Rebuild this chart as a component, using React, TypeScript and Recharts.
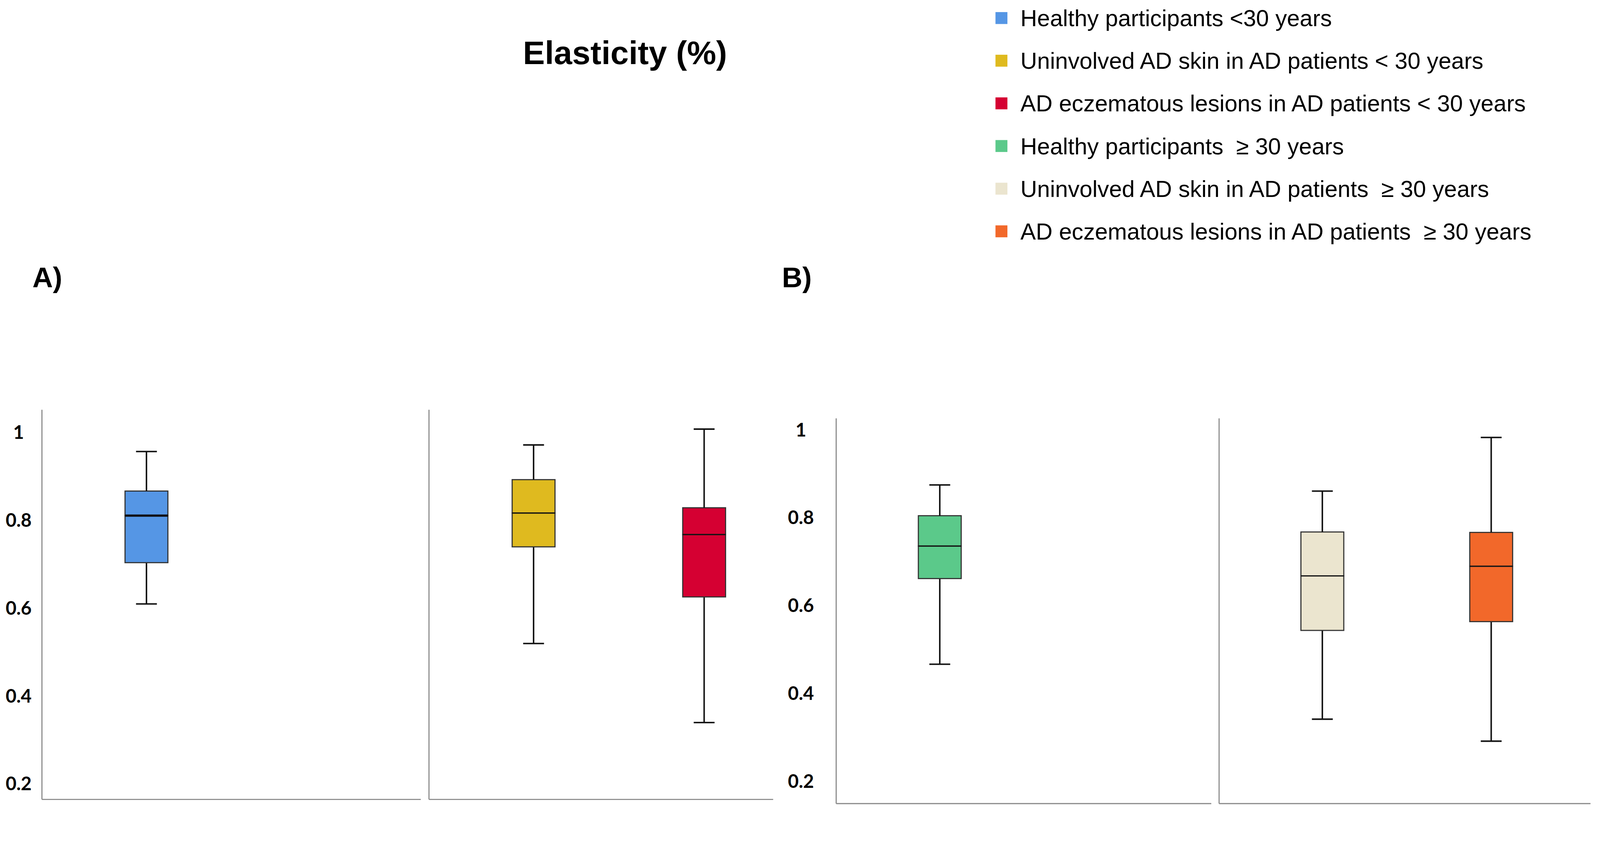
import { ComposedChart, Bar, XAxis, YAxis } from "recharts";

// groups, in legend order
const groupLabels = [
  "Healthy participants <30 years",
  "Uninvolved AD skin in AD patients < 30 years",
  "AD eczematous lesions in AD patients < 30 years",
  "Healthy participants  ≥ 30 years",
  "Uninvolved AD skin in AD patients  ≥ 30 years",
  "AD eczematous lesions in AD patients  ≥ 30 years",
];
const boxColors = ["#5596e5", "#dfba1f", "#d50032", "#5bc98a", "#ebe5cf", "#f2682a"];

// box plot statistics
const minVals = [0.61, 0.52, 0.34, 0.467, 0.342, 0.292];
const q1Vals = [0.704, 0.74, 0.626, 0.662, 0.544, 0.564];
const medianVals = [0.811, 0.817, 0.768, 0.736, 0.668, 0.69];
const q3Vals = [0.867, 0.893, 0.829, 0.805, 0.768, 0.767];
const maxVals = [0.957, 0.972, 1.008, 0.875, 0.861, 0.983];

// which sub-panel each group sits in, and its slot inside it
const panelOf = [0, 1, 1, 2, 3, 3];
const slotOf = [1, 1, 2, 1, 1, 2];

const yTicks = [0.2, 0.4, 0.6, 0.8, 1];

const medianWidth = [6, 3, 3, 3, 3, 3];

const W = 4293;
const H = 2175;
const AXIS = "#8a8a8a";
const EDGE = "#333";

const rowsFor = (panel: number) =>
  groupLabels
    .map((name, i) => ({
      name,
      idx: i,
      slot: slotOf[i],
      color: boxColors[i],
      base: minVals[i],
      lowWhisker: q1Vals[i] - minVals[i],
      lowBox: medianVals[i] - q1Vals[i],
      highBox: q3Vals[i] - medianVals[i],
      highWhisker: maxVals[i] - q3Vals[i],
    }))
    .filter((r) => panelOf[r.idx] === panel);

const LowWhisker = (p: any) => {
  const cx = p.x + p.width / 2;
  const yb = p.y + p.height;
  return (
    <g>
      <line x1={cx} x2={cx} y1={p.y} y2={yb} stroke="#111" strokeWidth={4} />
      <line x1={cx - 28} x2={cx + 28} y1={yb} y2={yb} stroke="#111" strokeWidth={4} />
    </g>
  );
};

const HighWhisker = (p: any) => {
  const cx = p.x + p.width / 2;
  return (
    <g>
      <line x1={cx} x2={cx} y1={p.y} y2={p.y + p.height} stroke="#111" strokeWidth={4} />
      <line x1={cx - 28} x2={cx + 28} y1={p.y} y2={p.y} stroke="#111" strokeWidth={4} />
    </g>
  );
};

const BoxPart = (p: any) => {
  const d = p.payload;
  return (
    <rect x={p.x} y={p.y} width={p.width} height={p.height} fill={d.color} stroke={EDGE} strokeWidth={3} />
  );
};

const UpperBox = (p: any) => {
  const d = p.payload;
  const ym = p.y + p.height;
  return (
    <g>
      <rect x={p.x} y={p.y} width={p.width} height={p.height} fill={d.color} stroke={EDGE} strokeWidth={3} />
      <line x1={p.x} x2={p.x + p.width} y1={ym} y2={ym} stroke="#111" strokeWidth={medianWidth[d.idx]} />
    </g>
  );
};

type Plot = { left: number; top: number; right: number; bottom: number };

function Panel({
  panel,
  plot,
  xDomain,
  yDomain,
  chartLeft,
  labelX,
}: {
  panel: number;
  plot: Plot;
  xDomain: [number, number];
  yDomain: [number, number];
  chartLeft: number;
  labelX?: number;
}) {
  const pad = 20;
  const xAxisH = 4;
  const top = plot.top - pad;
  const width = plot.right + pad - chartLeft;
  const height = plot.bottom + pad - top;
  const data = rowsFor(panel);

  const tick = (t: any) => (
    <text
      x={(labelX ?? 0) - chartLeft}
      y={t.y}
      dy={17}
      textAnchor="middle"
      fontFamily="Lato, 'Noto Sans', sans-serif"
      fontWeight={700}
      fontSize={50}
      fill="#000"
    >
      {String(t.payload.value)}
    </text>
  );

  return (
    <div style={{ position: "absolute", left: chartLeft, top, width, height }}>
      <ComposedChart
        width={width}
        height={height}
        data={data}
        margin={{ top: pad, right: pad, bottom: pad - xAxisH, left: 0 }}
      >
        <XAxis
          type="number"
          dataKey="slot"
          domain={xDomain}
          allowDataOverflow
          height={xAxisH}
          tick={false}
          tickLine={false}
          axisLine={{ stroke: AXIS, strokeWidth: 3 }}
        />
        <YAxis
          type="number"
          domain={yDomain}
          allowDataOverflow
          ticks={yTicks}
          width={plot.left - chartLeft}
          tick={labelX != null ? tick : false}
          tickLine={false}
          axisLine={{ stroke: AXIS, strokeWidth: 3 }}
        />
        <Bar dataKey="base" stackId="b" fill="none" barSize={115} isAnimationActive={false} />
        <Bar dataKey="lowWhisker" stackId="b" barSize={115} shape={LowWhisker} isAnimationActive={false} />
        <Bar dataKey="lowBox" stackId="b" barSize={115} shape={BoxPart} isAnimationActive={false} />
        <Bar dataKey="highBox" stackId="b" barSize={115} shape={UpperBox} isAnimationActive={false} />
        <Bar dataKey="highWhisker" stackId="b" barSize={115} shape={HighWhisker} isAnimationActive={false} />
      </ComposedChart>
    </div>
  );
}

export default function App() {
  // fit the whole figure into whatever the viewport really is
  const vw = typeof window !== "undefined" ? window.innerWidth : W;
  const vh = typeof window !== "undefined" ? window.innerHeight : H;
  const k = Math.min(vw / W, vh / H);

  return (
    <div style={{ width: W * k, height: H * k, overflow: "hidden", background: "#fff" }}>
      <style>{`html,body{margin:0;padding:0;overflow:hidden;background:#fff}`}</style>
      <div
        style={{
          position: "relative",
          width: W,
          height: H,
          background: "#fff",
          transform: `scale(${k})`,
          transformOrigin: "0 0",
          fontFamily: "'Liberation Sans', Arial, sans-serif",
        }}
      >
        <svg width={W} height={H} style={{ position: "absolute", left: 0, top: 0 }}>
          <text x={1677} y={172} textAnchor="middle" fontSize={88} fontWeight={700} fill="#000">
            Elasticity (%)
          </text>
          <text x={87} y={770} fontSize={76} fontWeight={700} fill="#000">
            A)
          </text>
          <text x={2098} y={770} fontSize={76} fontWeight={700} fill="#000">
            B)
          </text>
          {groupLabels.map((label, i) => {
            const cy = 48.4 + i * 114.4;
            return (
              <g key={label}>
                <rect x={2671} y={cy - 16} width={32} height={32} fill={boxColors[i]} />
                <text x={2738} y={cy + 22} fontSize={62} fill="#000" style={{ whiteSpace: "pre" }}>
                  {label}
                </text>
              </g>
            );
          })}
        </svg>

        <Panel
          panel={0}
          plot={{ left: 112.5, top: 1099, right: 1129, bottom: 2144 }}
          xDomain={[0.388, 2.61]}
          yDomain={[0.165, 1.052]}
          chartLeft={0}
          labelX={50}
        />
        <Panel
          panel={1}
          plot={{ left: 1150.5, top: 1099, right: 2074, bottom: 2144 }}
          xDomain={[0.386, 2.404]}
          yDomain={[0.165, 1.052]}
          chartLeft={1130.5}
        />
        <Panel
          panel={2}
          plot={{ left: 2243.6, top: 1121.7, right: 3250, bottom: 2154.8 }}
          xDomain={[0.3876, 2.609]}
          yDomain={[0.15, 1.0265]}
          chartLeft={2089}
          labelX={2149}
        />
        <Panel
          panel={3}
          plot={{ left: 3271, top: 1121.7, right: 4267.5, bottom: 2154.8 }}
          xDomain={[0.3885, 2.588]}
          yDomain={[0.15, 1.0265]}
          chartLeft={3251}
        />
      </div>
    </div>
  );
}
